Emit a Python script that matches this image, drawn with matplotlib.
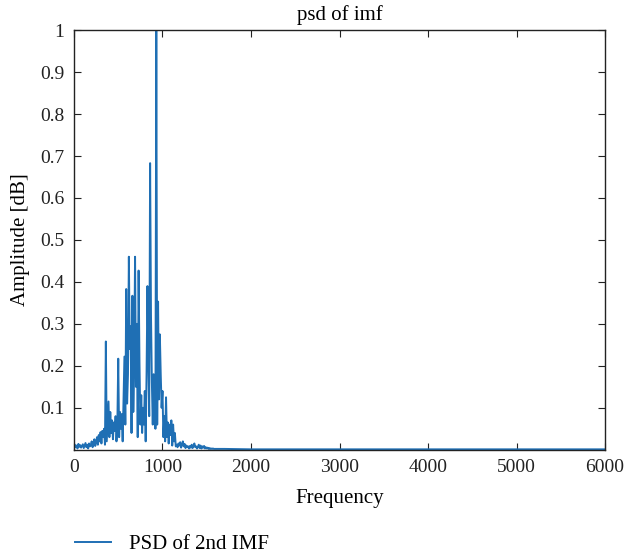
import numpy as np
import matplotlib
matplotlib.use('Agg')
import matplotlib.pyplot as plt

plt.rcParams['font.family'] = ['Liberation Serif', 'DejaVu Serif']

# spectrum samples (Hz, amplitude)
freq = [
    0, 10, 20, 30, 40, 50, 60, 70, 80, 90,
    100, 110, 120, 130, 140, 150, 160, 170, 180, 190,
    200, 210, 220, 230, 240, 250, 260, 270, 280, 290,
    300, 310, 320, 330, 340, 350, 360, 370, 380, 390,
    400, 410, 420, 430, 440, 450, 460, 470, 480, 490,
    500, 510, 520, 530, 540, 550, 560, 570, 580, 590,
    600, 610, 620, 630, 640, 650, 660, 670, 680, 690,
    700, 710, 720, 730, 740, 750, 760, 770, 780, 790,
    800, 810, 820, 830, 840, 850, 860, 870, 880, 890,
    900, 910, 920, 930, 940, 950, 960, 970, 980, 990,
    1000, 1010, 1020, 1030, 1040, 1050, 1060, 1070, 1080, 1090,
    1100, 1110, 1120, 1130, 1140, 1150, 1160, 1170, 1180, 1190,
    1200, 1210, 1220, 1230, 1240, 1250, 1260, 1270, 1280, 1290,
    1300, 1310, 1320, 1330, 1340, 1350, 1360, 1370, 1380, 1390,
    1400, 1410, 1420, 1430, 1440, 1450, 1460, 1470, 1480, 1490,
    1500, 1510, 1520, 1530, 1540, 1550, 1560, 1570, 1580, 1590,
    1700, 2000, 3000, 4000, 5000, 6000,
]
amp = [
    0.004, 0.012, 0.006, 0.010, 0.003, 0.014, 0.007, 0.011, 0.005, 0.009,
    0.013, 0.004, 0.010, 0.016, 0.006, 0.012, 0.003, 0.015, 0.008, 0.011,
    0.020, 0.006, 0.014, 0.025, 0.009, 0.018, 0.030, 0.012, 0.035, 0.020,
    0.042, 0.015, 0.045, 0.030, 0.050, 0.012, 0.258, 0.020, 0.065, 0.115,
    0.030, 0.090, 0.040, 0.070, 0.025, 0.065, 0.045, 0.080, 0.020, 0.060,
    0.217, 0.030, 0.090, 0.050, 0.085, 0.020, 0.120, 0.222, 0.060, 0.383,
    0.110, 0.180, 0.460, 0.240, 0.294, 0.040, 0.367, 0.090, 0.200, 0.460,
    0.150, 0.300, 0.030, 0.427, 0.207, 0.060, 0.130, 0.040, 0.100, 0.060,
    0.140, 0.020, 0.180, 0.390, 0.220, 0.080, 0.683, 0.320, 0.160, 0.060,
    0.180, 0.150, 0.050, 1.000, 0.060, 0.353, 0.120, 0.275, 0.180, 0.100,
    0.140, 0.030, 0.080, 0.020, 0.125, 0.030, 0.065, 0.015, 0.060, 0.035,
    0.070, 0.010, 0.060, 0.020, 0.040, 0.008, 0.012, 0.006, 0.015, 0.010,
    0.018, 0.005, 0.012, 0.020, 0.008, 0.014, 0.004, 0.010, 0.006, 0.008,
    0.003, 0.009, 0.005, 0.012, 0.004, 0.010, 0.015, 0.006, 0.008, 0.003,
    0.007, 0.012, 0.004, 0.010, 0.003, 0.008, 0.005, 0.009, 0.003, 0.006,
    0.003, 0.005, 0.002, 0.004, 0.002, 0.003, 0.002, 0.003, 0.002, 0.002,
    0.002, 0.001, 0.001, 0.001, 0.001, 0.001,
]

xticks = [0, 1000, 2000, 3000, 4000, 5000, 6000]
yticks = [0.1, 0.2, 0.3, 0.4, 0.5, 0.6, 0.7, 0.8, 0.9, 1]
yticklabels = ['0.1', '0.2', '0.3', '0.4', '0.5', '0.6', '0.7', '0.8', '0.9', '1']

fig = plt.figure(figsize=(6.27, 5.58), dpi=100)
ax = fig.add_axes([0.118, 0.194, 0.847, 0.752])

ax.plot(freq, amp, color='#1f6fb4', lw=1.4, label='PSD of 2nd IMF')

ax.set_xlim(0, 6000)
ax.set_ylim(0, 1)
ax.set_xticks(xticks)
ax.set_yticks(yticks)
ax.set_yticklabels(yticklabels)
ax.tick_params(direction='in', top=True, right=True, labelsize=14, length=5, width=0.8, colors='#222222')
ax.tick_params(axis='y', pad=7)
ax.tick_params(axis='x', pad=7)
for s in ax.spines.values():
    s.set_color('#222222')
    s.set_linewidth(1.0)

ax.set_title('psd of imf', fontsize=15, pad=7)
ax.set_xlabel('Frequency', fontsize=15, labelpad=9)
ax.set_ylabel('Amplitude [dB]', fontsize=15, labelpad=7)

fig.legend(loc='center left', bbox_to_anchor=(0.09, 0.025), frameon=False, fontsize=15,
           handlelength=1.7, handletextpad=0.9)

fig.savefig('out.png', dpi=100)
